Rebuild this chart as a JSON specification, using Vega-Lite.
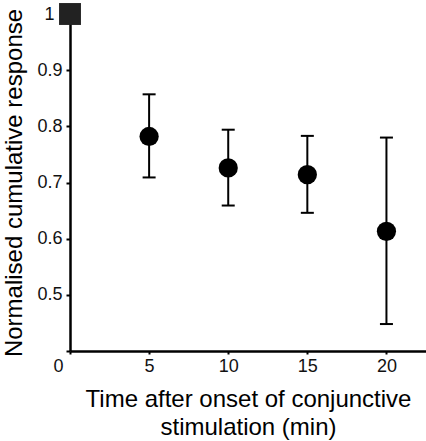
{
  "$schema": "https://vega.github.io/schema/vega-lite/v6.json",
  "width": 356,
  "height": 337,
  "autosize": {"type": "none"},
  "padding": {"left": 70, "top": 14, "right": 0, "bottom": 90},
  "background": "white",
  "config": {
    "view": {"stroke": null},
    "font": "Liberation Sans",
    "axis": {"grid": false, "domainColor": "black", "domainWidth": 2.5, "tickColor": "black", "tickWidth": 2, "labelColor": "#111", "titleColor": "black", "labelFont": "Liberation Sans", "titleFont": "Liberation Sans", "titleFontWeight": "normal", "labelFontSize": 18, "titleFontSize": 24, "labelAngle": 0},
    "axisX": {"titleLineHeight": 28, "titlePadding": 12, "labelPadding": 3, "tickSize": 3, "labelFlush": false},
    "axisY": {"titlePadding": 10, "labelPadding": 4, "tickSize": 4}
  },
  "data": {"values": [
    {"time": 0, "resp": 1.0, "lo": null, "hi": null, "kind": "baseline"},
    {"time": 5, "resp": 0.782, "lo": 0.709, "hi": 0.857, "kind": "post"},
    {"time": 10, "resp": 0.726, "lo": 0.659, "hi": 0.794, "kind": "post"},
    {"time": 15, "resp": 0.714, "lo": 0.646, "hi": 0.783, "kind": "post"},
    {"time": 20, "resp": 0.613, "lo": 0.448, "hi": 0.780, "kind": "post"}
  ]},
  "encoding": {
    "x": {"field": "time", "type": "quantitative", "scale": {"domain": [0, 22.5], "nice": false, "zero": false},
      "axis": {"values": [0, 5, 10, 15, 20], "title": ["Time after onset of conjunctive", "stimulation (min)"],
        "labelOffset": {"condition": {"test": "datum.value === 0", "value": -12}, "value": 0}}}
  },
  "layer": [
    {
      "transform": [{"filter": "datum.kind === 'post'"}],
      "mark": {"type": "rule", "color": "black", "strokeWidth": 2},
      "encoding": {
        "y": {"field": "lo", "type": "quantitative",
          "scale": {"domain": [0.4, 1.0], "nice": false, "zero": false},
          "axis": {"values": [0.4, 0.5, 0.6, 0.7, 0.8, 0.9, 1.0], "title": "Normalised cumulative response",
            "labelPadding": {"condition": {"test": "datum.value > 0.95", "value": 12}, "value": 4},
            "labelExpr": "datum.value < 0.45 ? '' : format(datum.value, '~g')"}},
        "y2": {"field": "hi"}
      }
    },
    {
      "transform": [{"filter": "datum.kind === 'post'"}],
      "mark": {"type": "tick", "color": "black", "thickness": 2, "size": 13, "orient": "horizontal", "opacity": 1},
      "encoding": {"y": {"field": "lo", "type": "quantitative"}}
    },
    {
      "transform": [{"filter": "datum.kind === 'post'"}],
      "mark": {"type": "tick", "color": "black", "thickness": 2, "size": 13, "orient": "horizontal", "opacity": 1},
      "encoding": {"y": {"field": "hi", "type": "quantitative"}}
    },
    {
      "mark": {"type": "point", "filled": true, "opacity": 1},
      "encoding": {
        "y": {"field": "resp", "type": "quantitative"},
        "shape": {"field": "kind", "type": "nominal", "scale": {"domain": ["baseline", "post"], "range": ["square", "circle"]}, "legend": null},
        "size": {"field": "kind", "type": "nominal", "scale": {"domain": ["baseline", "post"], "range": [480, 370]}, "legend": null},
        "color": {"field": "kind", "type": "nominal", "scale": {"domain": ["baseline", "post"], "range": ["#222222", "#000000"]}, "legend": null}
      }
    }
  ]
}
